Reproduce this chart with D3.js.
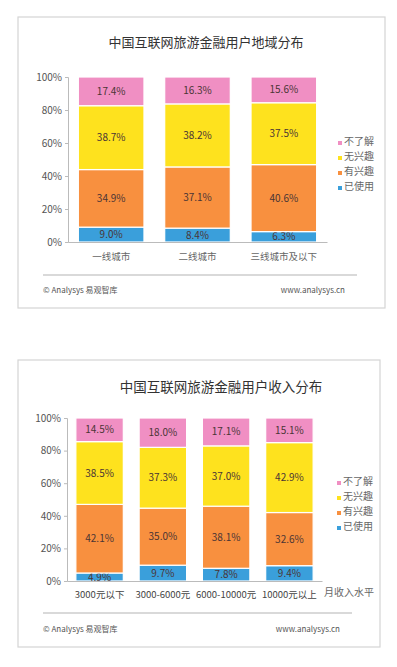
<!DOCTYPE html>
<html>
<head>
<meta charset="utf-8">
<script src="https://cdn.jsdelivr.net/npm/d3@7"></script>
<style>
  body { margin: 0; background: #fff; }
  svg { display: block; font-family: "Noto Sans CJK SC", "Noto Sans", sans-serif; }
</style>
</head>
<body>
<div id="chart"></div>
<script>
// series, bottom to top of each stack
const seriesNames = ['已使用', '有兴趣', '无兴趣', '不了解'];
const seriesColors = ['#3a9fdb', '#f8903f', '#fee21e', '#f08fc3'];
const legendOrder = ['不了解', '无兴趣', '有兴趣', '已使用'];
const yTicks = [0, 20, 40, 60, 80, 100];

// chart 1: by region
const regionTitle = '中国互联网旅游金融用户地域分布';
const regionCats = ['一线城市', '二线城市', '三线城市及以下'];
const regionUsed = [9.0, 8.4, 6.3];
const regionInterested = [34.9, 37.1, 40.6];
const regionNoInterest = [38.7, 38.2, 37.5];
const regionUnknown = [17.4, 16.3, 15.6];

// chart 2: by income
const incomeTitle = '中国互联网旅游金融用户收入分布';
const incomeCats = ['3000元以下', '3000-6000元', '6000-10000元', '10000元以上'];
const incomeUsed = [4.9, 9.7, 7.8, 9.4];
const incomeInterested = [42.1, 35.0, 38.1, 32.6];
const incomeNoInterest = [38.5, 37.3, 37.0, 42.9];
const incomeUnknown = [14.5, 18.0, 17.1, 15.1];

const W = 397, H = 667;
const svg = d3.select('#chart').append('svg').attr('width', W).attr('height', H);

function drawChart(cfg){
    const g = svg.append('g');
    const rows = cfg.cats.map((c, i) => {
        let rec = {cat: c};
        seriesNames.forEach((s, j) => rec[s] = cfg.values[j][i]);
        return rec;
    });

    // panel
    g.append('rect')
        .attr('x', cfg.panel[0]).attr('y', cfg.panel[1])
        .attr('width', cfg.panel[2] - cfg.panel[0]).attr('height', cfg.panel[3] - cfg.panel[1])
        .attr('fill', '#fff').attr('stroke', '#d4d4d4').attr('stroke-width', 1.2);

    g.append('text')
        .attr('x', cfg.titleX).attr('y', cfg.titleY)
        .attr('text-anchor', 'middle')
        .attr('font-size', cfg.titleSize)
        .attr('fill', '#333')
        .text(cfg.title);

    const x = d3.scaleBand().domain(cfg.cats).range([cfg.left, cfg.right])
        .paddingInner(cfg.padIn).paddingOuter(cfg.padOut);
    const y = d3.scaleLinear().domain([0, 100]).range([cfg.bottom, cfg.top]);

    const stack = d3.stack().keys(seriesNames)(rows);

    const layers = g.append('g').attr('class', 'plot-chart')
        .selectAll('g').data(stack).join('g')
        .attr('fill', (d, i) => seriesColors[i]);

    layers.selectAll('rect').data(d => d).join('rect')
        .attr('x', d => x(d.data.cat))
        .attr('width', x.bandwidth())
        .attr('y', d => y(d[1]))
        .attr('height', d => y(d[0]) - y(d[1]))
        .attr('stroke', '#fff').attr('stroke-width', 1.2);

    layers.selectAll('text').data(d => d).join('text')
        .attr('x', d => x(d.data.cat) + x.bandwidth() / 2)
        .attr('y', d => (y(d[0]) + y(d[1])) / 2 + 3.5)
        .attr('text-anchor', 'middle')
        .attr('font-size', 10)
        .attr('fill', '#4a3535')
        .text(d => (d[1] - d[0]).toFixed(1) + '%');

    // axes
    const laxis = g.append('g')
        .attr('transform', `translate(${cfg.left},0)`)
        .call(d3.axisLeft(y).tickValues(yTicks).tickSize(3).tickFormat(d => d + '%'));
    laxis.select('.domain').attr('stroke', '#bbb');
    laxis.selectAll('.tick line').attr('stroke', '#bbb');
    laxis.selectAll('.tick text').attr('font-size', 10).attr('fill', '#555')
        .attr('font-family', '"Noto Sans CJK SC", sans-serif').attr('x', -6);

    const baxis = g.append('g')
        .attr('transform', `translate(0,${cfg.bottom})`)
        .call(d3.axisBottom(x).tickSize(0).tickPadding(cfg.xPad));
    baxis.select('.domain').attr('stroke', '#bbb');
    baxis.selectAll('.tick text').attr('font-size', cfg.xSize).attr('fill', cfg.xColor)
        .attr('font-family', '"Noto Sans CJK SC", sans-serif');

    if(cfg.xTitle){
        g.append('text')
            .attr('x', cfg.right + 2).attr('y', cfg.bottom + 15)
            .attr('font-size', 10).attr('fill', '#666')
            .text(cfg.xTitle);
    }

    // legend
    const leg = g.append('g')
        .selectAll('g').data(legendOrder).join('g')
        .attr('transform', (d, i) => `translate(${cfg.legX},${cfg.legY + i * 15})`);
    leg.append('rect')
        .attr('x', 0).attr('y', -4).attr('width', 4).attr('height', 4)
        .attr('fill', d => seriesColors[seriesNames.indexOf(d)]);
    leg.append('text')
        .attr('x', 6).attr('y', 0)
        .attr('font-size', 10).attr('fill', '#666')
        .text(d => d);

    // footer
    g.append('line')
        .attr('x1', 43).attr('x2', cfg.footRight + 12)
        .attr('y1', cfg.footLine).attr('y2', cfg.footLine)
        .attr('stroke', '#ccc').attr('stroke-width', 1.5);
    g.append('text')
        .attr('x', 43).attr('y', cfg.footY)
        .attr('font-size', 8).attr('fill', '#555')
        .text('© Analysys 易观智库');
    g.append('text')
        .attr('x', cfg.footRight).attr('y', cfg.footY)
        .attr('text-anchor', 'end')
        .attr('font-size', 8).attr('fill', '#555')
        .text('www.analysys.cn');
}

drawChart({
    panel: [18, 17, 385, 308],
    title: regionTitle, titleX: 206, titleY: 47, titleSize: 13,
    cats: regionCats,
    values: [regionUsed, regionInterested, regionNoInterest, regionUnknown],
    left: 68, right: 327, top: 77, bottom: 242,
    padIn: 0.24, padOut: 0.12,
    xPad: 11, xSize: 9.5, xColor: '#666',
    legX: 338, legY: 145,
    footLine: 275, footY: 293, footRight: 345
});

drawChart({
    panel: [18, 360, 380, 647],
    title: incomeTitle, titleX: 221, titleY: 392, titleSize: 13.5,
    cats: incomeCats,
    values: [incomeUsed, incomeInterested, incomeNoInterest, incomeUnknown],
    left: 67, right: 322, top: 418, bottom: 581,
    padIn: 0.25, padOut: 0.14,
    xPad: 10, xSize: 9.5, xColor: '#444',
    xTitle: '月收入水平',
    legX: 337, legY: 485,
    footLine: 613, footY: 632, footRight: 340
});
</script>
</body>
</html>
